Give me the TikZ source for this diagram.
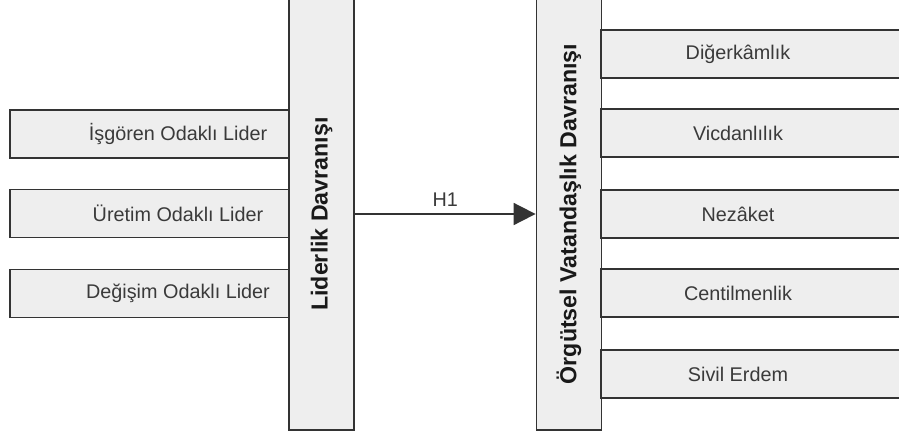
\documentclass[tikz,border=0pt]{standalone}
\usepackage{fontspec}
\setmainfont{Liberation Sans}
\usetikzlibrary{arrows.meta}
\definecolor{edge}{HTML}{333333}
\definecolor{boxfill}{HTML}{EEEEEE}
\definecolor{txt}{HTML}{3A3A3A}
\begin{document}
\begin{tikzpicture}[x=1pt,y=-1pt,
  boxstyle/.style={draw=edge, fill=boxfill, line width=1.8pt, rectangle, inner sep=0pt},
  lbox/.style={boxstyle, minimum width=279pt, minimum height=48pt},
  rbox/.style={boxstyle, minimum width=304pt, minimum height=48pt},
  bar/.style={boxstyle, rotate=90, minimum width=432pt, minimum height=65pt,
    font=\fontsize{23.2}{27}\selectfont\bfseries, text=black!90},
  lbl/.style={font=\fontsize{19.8}{23}\selectfont, text=txt},
  arr/.style={draw=edge, line width=1.8pt, -{Triangle[length=22pt,width=22pt]}}
]
\useasboundingbox (0,0) rectangle (899,434);
% left bar and right bar
\node[bar] (lb) at (321.5,214) {Liderlik Davranışı};
\node[bar] (rb) at (569,214) {Örgütsel Vatandaşlık Davranışı};
% left boxes
\node[lbox, label={[lbl, xshift=28.5pt]center:İşgören Odaklı Lider}] (l1) at (149.5,134) {};
\node[lbox, label={[lbl, xshift=28.5pt]center:Üretim Odaklı Lider}] (l2) at (149.5,213.5) {};
\node[lbox, label={[lbl, xshift=28.5pt]center:Değişim Odaklı Lider}] (l3) at (149.5,293.5) {};
% right boxes
\node[rbox, label={[lbl, xshift=-15pt]center:Diğerkâmlık}] (r1) at (753,54) {};
\node[rbox, label={[lbl, xshift=-15pt]center:Vicdanlılık}] (r2) at (753,133) {};
\node[rbox, label={[lbl, xshift=-15pt]center:Nezâket}] (r3) at (753,214) {};
\node[rbox, label={[lbl, xshift=-15pt]center:Centilmenlik}] (r4) at (753,293) {};
\node[rbox, label={[lbl, xshift=-15pt]center:Sivil Erdem}] (r5) at (753,374) {};
% connector
\draw[arr] (lb) -- node[lbl, above=3pt] {H1} (rb);
\end{tikzpicture}
\end{document}
